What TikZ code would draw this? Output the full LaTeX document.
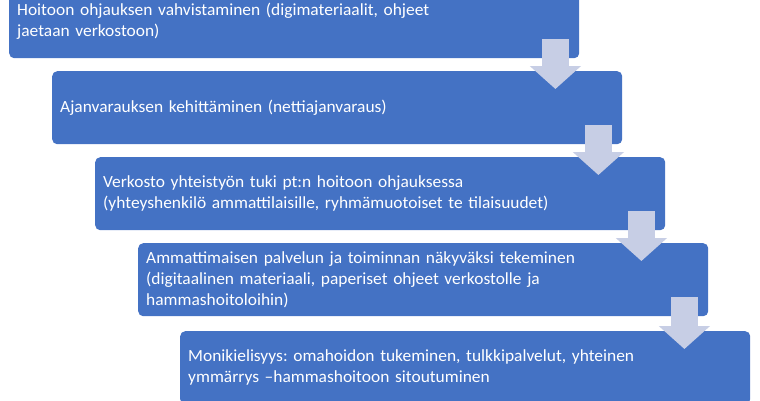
\documentclass[tikz,border=0pt]{standalone}
\usepackage{fontspec}
\setmainfont[FakeStretch=1.025]{Carlito}
\usepackage{tikz}
\usetikzlibrary{arrows.meta}

\definecolor{boxblue}{HTML}{4472C4}
\definecolor{arrowgrey}{HTML}{C7CEE5}

\tikzset{
  stepbox/.style={draw=none, fill=boxblue, rounded corners=5pt, anchor=north west,
    text=white, text width=554pt, inner xsep=8pt, minimum height=73pt, align=left,
    font=\fontsize{17}{21}\selectfont\frenchspacing},
  flow/.style={draw=arrowgrey, line width=27.5pt,
    -{Triangle[width=50pt,length=23pt,fill=arrowgrey]}, shorten >=-18pt}
}

\begin{document}
\begin{tikzpicture}[x=1pt,y=-1pt]
  \useasboundingbox (0,0) rectangle (760,400);
  \node[stepbox] (b1) at (9,-15)  {Hoitoon ohjauksen vahvistaminen (digimateriaalit, ohjeet\\jaetaan verkostoon)};
  \node[stepbox] (b2) at (52,71)  {Ajanvarauksen kehittäminen (nettiajanvaraus)};
  \node[stepbox] (b3) at (95,157) {Verkosto yhteistyön tuki pt:n hoitoon ohjauksessa\\(yhteyshenkilö ammattilaisille, ryhmämuotoiset te tilaisuudet)};
  \node[stepbox] (b4) at (138,243) {Ammattimaisen palvelun ja toiminnan näkyväksi tekeminen\\(digitaalinen materiaali, paperiset ohjeet verkostolle ja\\hammashoitoloihin)};
  \node[stepbox] (b5) at (180,331) {Monikielisyys: omahoidon tukeminen, tulkkipalvelut, yhteinen\\ymmärrys –hammashoitoon sitoutuminen};

  % arrows between the steps
  \foreach \i/\j in {b1/b2, b2/b3, b3/b4, b4/b5}
  {
    \coordinate (s\i) at ([xshift=-24pt,yshift=19pt]\i.south east);
    \draw[flow] (s\i) -- (s\i |- \j.north);
  }
\end{tikzpicture}
\end{document}
